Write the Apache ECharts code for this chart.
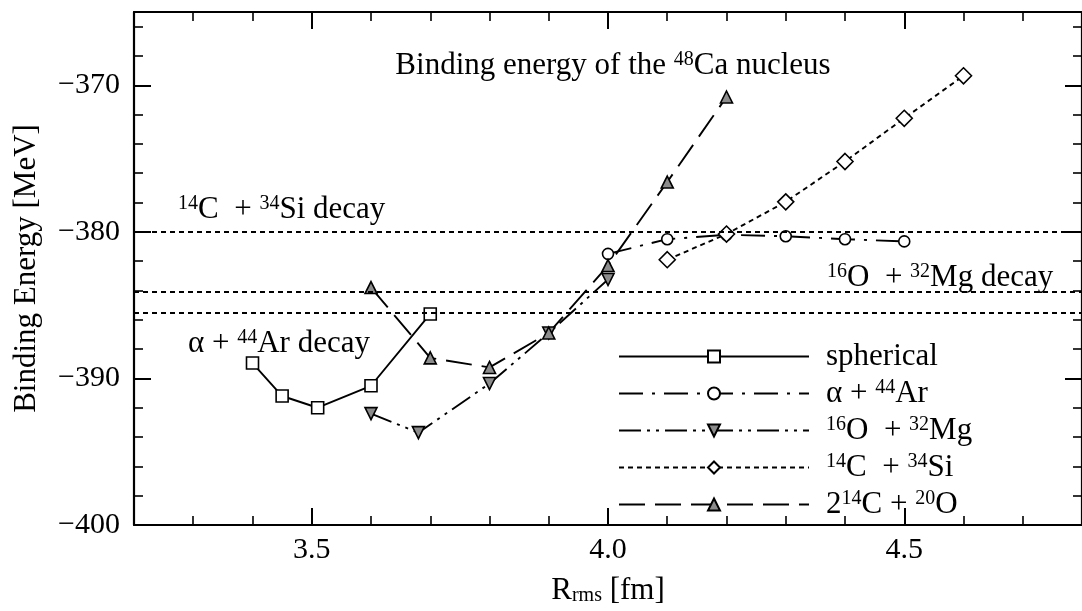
<!DOCTYPE html>
<html><head><meta charset="utf-8">
<script src="https://cdn.jsdelivr.net/npm/echarts@6/dist/echarts.min.js"></script>
<style>html,body{margin:0;padding:0;background:#fff}#c{width:1082px;height:611px}</style>
</head><body><div id="c"></div><script>
const FONT = 'Liberation Serif';
// ---- data ----
const sphR = [3.4, 3.45, 3.51, 3.6, 3.7];
const sphE = [-388.95, -391.2, -392.0, -390.5, -385.6];
const alphaR = [4.0, 4.1, 4.2, 4.3, 4.4, 4.5];
const alphaE = [-381.5, -380.5, -380.2, -380.3, -380.5, -380.65];
const oMgR = [3.6, 3.68, 3.8, 3.9, 4.0];
const oMgE = [-392.4, -393.7, -390.35, -386.9, -383.25];
const cSiR = [4.1, 4.2, 4.3, 4.4, 4.5, 4.6];
const cSiE = [-381.9, -380.15, -377.95, -375.2, -372.25, -369.35];
const ccoR = [3.6, 3.7, 3.8, 3.9, 4.0, 4.1, 4.2];
const ccoE = [-383.8, -388.6, -389.25, -386.9, -382.3, -376.6, -370.8];
const decayLevels = [-380.0, -384.1, -385.5];
const xMajorTicks = [3.5, 4.0, 4.5];
const xRange = [3.2, 4.8];
const yRange = [-400, -365];
const seriesNames = ['spherical', 'alpha', 'oMg', 'cSi', 'cco'];
const legendLabels = {
  spherical: 'spherical',
  alpha: 'α + {sup|44}Ar',
  oMg: '{sup|16}O  + {sup|32}Mg',
  cSi: '{sup|14}C  + {sup|34}Si',
  cco: '2{sup|14}C + {sup|20}O'
};

const zip = (a, b) => a.map((v, i) => [v, b[i]]);
const rich = {
  sup: { fontFamily: FONT, fontSize: 20, color: '#000', verticalAlign: 'top', lineHeight: 14 },
  sub: { fontFamily: FONT, fontSize: 20, color: '#000', verticalAlign: 'bottom', lineHeight: 12 }
};
const lineW = 1.9;

function lineSeries(name, r, e, dash, symbol, size, fill, extra) {
  return Object.assign({
    name, type: 'line', data: zip(r, e), xAxisIndex: 0, yAxisIndex: 0,
    symbol, symbolSize: size, showAllSymbol: true,
    lineStyle: { color: '#000', width: lineW, type: dash },
    itemStyle: { color: fill, borderColor: '#000', borderWidth: 1.6 },
    emphasis: { disabled: true }, animation: false, z: 3
  }, extra || {});
}

const chart = echarts.init(document.getElementById('c'), null, { renderer: 'canvas' });
const axisLabelStyle = { fontFamily: FONT, fontSize: 30, color: '#000' };
const grid = { left: 134, top: 12, width: 957, height: 527 };

chart.setOption({
  animation: false,
  backgroundColor: '#fff',
  grid,
  xAxis: [
    { type: 'value', position: 'bottom', min: xRange[0], max: xRange[1],
      axisLine: { show: true, onZero: false, lineStyle: { color: '#000', width: 2.2 } },
      axisTick: { show: true, inside: true, length: 17, customValues: xMajorTicks, lineStyle: { color: '#000', width: 2 } },
      axisLabel: { show: true, customValues: xMajorTicks, margin: 10, formatter: v => v.toFixed(1), ...axisLabelStyle },
      splitLine: { show: false },
      name: 'R{sub|rms} [fm]', nameLocation: 'middle', nameGap: 50,
      nameTextStyle: { fontFamily: FONT, fontSize: 31, color: '#000', rich } },
    { type: 'value', position: 'bottom', min: xRange[0], max: xRange[1], interval: 0.1,
      axisLine: { show: false }, axisLabel: { show: false }, splitLine: { show: false },
      axisTick: { show: true, inside: true, length: 9, lineStyle: { color: '#000', width: 1.6 } } },
    { type: 'value', position: 'top', min: xRange[0], max: xRange[1],
      axisLine: { show: true, onZero: false, lineStyle: { color: '#000', width: 2.2 } },
      axisTick: { show: true, inside: true, length: 17, customValues: xMajorTicks, lineStyle: { color: '#000', width: 2 } },
      axisLabel: { show: false }, splitLine: { show: false } },
    { type: 'value', position: 'top', min: xRange[0], max: xRange[1], interval: 0.1,
      axisLine: { show: false }, axisLabel: { show: false }, splitLine: { show: false },
      axisTick: { show: true, inside: true, length: 9, lineStyle: { color: '#000', width: 1.6 } } }
  ],
  yAxis: [
    { type: 'value', position: 'left', min: yRange[0], max: yRange[1], interval: 10,
      axisLine: { show: true, onZero: false, lineStyle: { color: '#000', width: 2.2 } },
      axisTick: { show: true, inside: true, length: 17, lineStyle: { color: '#000', width: 2 } },
      axisLabel: { show: true, margin: 14, showMaxLabel: false, formatter: v => (v < 0 ? '\u2212' : '') + Math.abs(v), ...axisLabelStyle },
      splitLine: { show: false },
      name: 'Binding Energy [MeV]', nameLocation: 'middle', nameGap: 92,
      nameTextStyle: { fontFamily: FONT, fontSize: 31, color: '#000' } },
    { type: 'value', position: 'left', min: yRange[0], max: yRange[1], interval: 2,
      axisLine: { show: false }, axisLabel: { show: false }, splitLine: { show: false },
      axisTick: { show: true, inside: true, length: 9, lineStyle: { color: '#000', width: 1.6 } } },
    { type: 'value', position: 'right', min: yRange[0], max: yRange[1], interval: 10,
      axisLine: { show: true, onZero: false, lineStyle: { color: '#000', width: 2.2 } },
      axisTick: { show: true, inside: true, length: 17, lineStyle: { color: '#000', width: 2 } },
      axisLabel: { show: false }, splitLine: { show: false } },
    { type: 'value', position: 'right', min: yRange[0], max: yRange[1], interval: 2,
      axisLine: { show: false }, axisLabel: { show: false }, splitLine: { show: false },
      axisTick: { show: true, inside: true, length: 9, lineStyle: { color: '#000', width: 1.6 } } }
  ],
  legend: {
    orient: 'vertical', left: 613, top: 336,
    itemWidth: 190, itemHeight: 15, itemGap: 6,
    selectedMode: false,
    data: seriesNames,
    formatter: n => legendLabels[n],
    textStyle: { fontFamily: FONT, fontSize: 31, color: '#000', lineHeight: 31, padding: [0, 0, 0, 12], rich }
  },
  series: [
    lineSeries('spherical', sphR, sphE, 'solid', 'rect', 12, '#fff', {
      markLine: {
        silent: true, symbol: 'none', animation: false,
        label: { show: false },
        lineStyle: { color: '#000', width: 1.8, type: [5, 4] },
        emphasis: { disabled: true },
        data: decayLevels.map(v => ({ yAxis: v }))
      }
    }),
    lineSeries('alpha', alphaR, alphaE, [24, 9, 3, 9], 'circle', 11, '#fff'),
    lineSeries('oMg', oMgR, oMgE, [22, 6, 3, 6, 3, 6], 'triangle', 12, '#8c8c8c', { symbolRotate: 180 }),
    lineSeries('cSi', cSiR, cSiE, [5, 4], 'diamond', 16, '#fff'),
    lineSeries('cco', ccoR, ccoE, [26, 10], 'triangle', 12, '#8c8c8c')
  ],
  graphic: [
    { type: 'text', x: 613, y: 50, silent: true,
      style: { text: 'Binding energy of the {sup|48}Ca nucleus', fontFamily: FONT, fontSize: 31, fill: '#000', align: 'center', verticalAlign: 'top', lineHeight: 31, rich } },
    { type: 'text', x: 178, y: 194, silent: true,
      style: { text: '{sup|14}C  + {sup|34}Si decay', fontFamily: FONT, fontSize: 31, fill: '#000', align: 'left', verticalAlign: 'top', lineHeight: 31, rich } },
    { type: 'text', x: 188, y: 328, silent: true,
      style: { text: 'α + {sup|44}Ar decay', fontFamily: FONT, fontSize: 31, fill: '#000', align: 'left', verticalAlign: 'top', lineHeight: 31, rich } },
    { type: 'text', x: 827, y: 262, silent: true,
      style: { text: '{sup|16}O  + {sup|32}Mg decay', fontFamily: FONT, fontSize: 31, fill: '#000', align: 'left', verticalAlign: 'top', lineHeight: 31, rich } }
  ]
});
</script></body></html>
